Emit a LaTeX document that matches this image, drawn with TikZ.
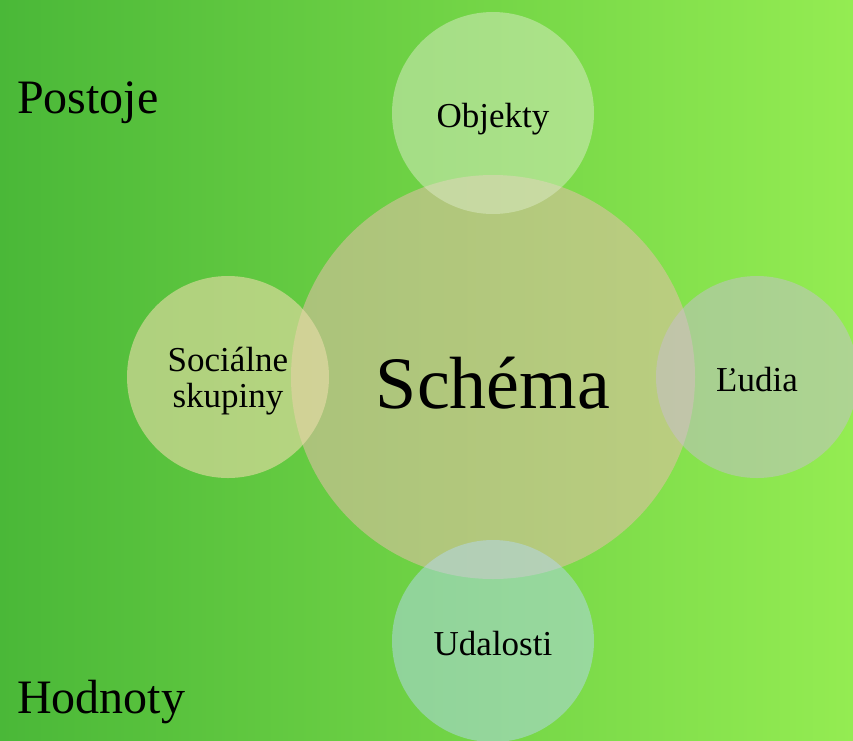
\documentclass[tikz,border=0pt]{standalone}
\usepackage{fontspec}
\setmainfont{Liberation Serif}
\usetikzlibrary{positioning}

\definecolor{bgleft}{RGB}{74,184,56}
\definecolor{bgright}{RGB}{148,236,82}
\definecolor{fillmid}{RGB}{230,190,170}
\definecolor{filltop}{RGB}{220,235,200}
\definecolor{fillleft}{RGB}{235,220,170}
\definecolor{fillright}{RGB}{200,190,210}
\definecolor{fillbot}{RGB}{180,215,240}

\begin{document}
\begin{tikzpicture}[x=1pt,y=-1pt,
  bubble/.style={circle,minimum size=202pt,inner sep=0pt,align=center,
    text height=28pt,text depth=0pt,
    fill opacity=0.5,text opacity=1,font=\fontsize{35}{36}\selectfont},
  corner/.style={anchor=base west,inner sep=0pt,font=\fontsize{48}{50}\selectfont}]
\useasboundingbox (0,0) rectangle (853,740);
\shade[left color=bgleft,right color=bgright] (0,0) rectangle (853,740);

\node [bubble,minimum size=404pt,fill=fillmid,fill opacity=0.55,text height=62pt,
  font=\fontsize{74}{76}\selectfont] (schema) at (493,377) {Schéma};
\node [bubble,fill=filltop] (objekty) at (493,113) {Objekty};
\node [bubble,fill=fillleft,fill opacity=0.6,text height=60pt] (socialne) at (228,377) {Sociálne\\skupiny};
\node [bubble,fill=fillright] (ludia) at (757,377) {Ľudia};
\node [bubble,fill=fillbot] (udalosti) at (493,641) {Udalosti};

\node [corner] (postoje) at (17,113) {Postoje};
\node [corner] (hodnoty) at (17,713) {Hodnoty};
\end{tikzpicture}
\end{document}
